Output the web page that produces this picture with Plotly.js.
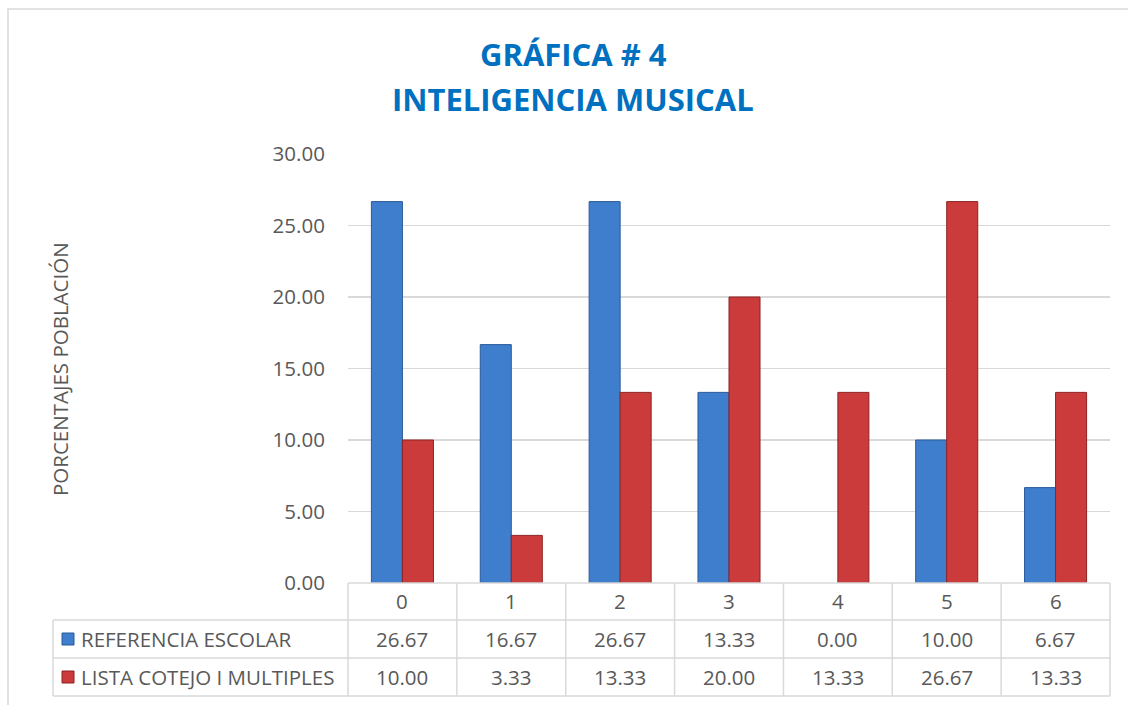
<!DOCTYPE html>
<html><head><meta charset="utf-8">
<script src="https://cdn.plot.ly/plotly-3.0.1.min.js"></script>
<style>html,body{margin:0;padding:0;background:#fff;}#chart{width:1128px;height:705px;}</style>
</head><body><div id="chart"></div>
<script>
const categories = ['0','1','2','3','4','5','6'];
const seriesNames = ['REFERENCIA ESCOLAR','LISTA COTEJO I MULTIPLES'];
const referenciaEscolar = [26.67, 16.67, 26.67, 13.33, 0.00, 10.00, 6.67];
const listaCotejo = [10.00, 3.33, 13.33, 20.00, 13.33, 26.67, 13.33];
const yTicks = [0,5,10,15,20,25,30];
const titleLines = ['GRÁFICA # 4','INTELIGENCIA MUSICAL'];
const yTitle = 'PORCENTAJES POBLACIÓN';

const FONT = 'Open Sans, Liberation Sans, sans-serif';
const TXT = '#595959';
const GRID = '#d9d9d9';
const colors = ['#3e7ecd','#cc3b3c'];
const lineColors = ['#2a5a99','#8e2323'];
const FS = 20.5;

// plot area geometry (pixels)
const L = 348, R = 1110, T = 154, B = 583;
const W = 1128, H = 705;
const pw = R - L, ph = B - T;
const px = x => (x - L) / pw;
const py = y => (B - y) / ph;

const traces = [referenciaEscolar, listaCotejo].map((vals, i) => ({
  type: 'bar', x: categories, y: vals, name: seriesNames[i],
  marker: {color: colors[i], line: {color: lineColors[i], width: vals.map(v => v > 0 ? 1 : 0)}},
  hoverinfo: 'skip'
}));

const shapes = [];
const annotations = [];
const line = (x0,y0,x1,y1) => shapes.push({type:'line',xref:'paper',yref:'paper',x0:px(x0),y0:py(y0),x1:px(x1),y1:py(y1),line:{color:GRID,width:1.5}});
// outer chart border
shapes.push({type:'rect',xref:'paper',yref:'paper',x0:px(8),y0:py(9),x1:px(1140),y1:py(720),line:{color:'#d9d9d9',width:1.5},fillcolor:'rgba(0,0,0,0)'});
// table lines
line(L, 583, R, 583);
line(53, 620, R, 620);
line(53, 658, R, 658);
line(53, 696, R, 696);
line(53, 620, 53, 696);
const colW = pw / categories.length;
for (let k = 0; k <= categories.length; k++) line(L + k*colW, 583, L + k*colW, 696);

// header labels & values
const rows = [referenciaEscolar, listaCotejo];
categories.forEach((c, k) => {
  annotations.push({xref:'x',yref:'paper',x:c,y:py(601),text:c,showarrow:false,font:{family:FONT,size:FS,color:TXT},xanchor:'center',yanchor:'middle'});
  rows.forEach((r, i) => {
    annotations.push({xref:'x',yref:'paper',x:c,y:py(i===0?639:677),text:r[k].toFixed(2),showarrow:false,font:{family:FONT,size:FS,color:TXT},xanchor:'center',yanchor:'middle'});
  });
});
// row legend keys
seriesNames.forEach((n, i) => {
  const yc = i===0 ? 639 : 677;
  shapes.push({type:'rect',xref:'paper',yref:'paper',x0:px(62),x1:px(74),y0:py(yc-6),y1:py(yc+6),fillcolor:colors[i],line:{color:lineColors[i],width:1}});
  annotations.push({xref:'paper',yref:'paper',x:px(79),y:py(yc),text:n,showarrow:false,font:{family:FONT,size:FS,color:TXT},xanchor:'left',yanchor:'middle'});
});
// title
titleLines.forEach((t, i) => {
  annotations.push({xref:'paper',yref:'paper',x:px(573),y:py(i===0?54:99),text:'<b>'+t+'</b>',showarrow:false,font:{family:FONT,size:31,color:'#0070c0'},xanchor:'center',yanchor:'middle'});
});
// y title
annotations.push({xref:'paper',yref:'paper',x:px(60),y:py(369),text:yTitle,textangle:-90,showarrow:false,font:{family:FONT,size:FS,color:TXT},xanchor:'center',yanchor:'middle'});

const layout = {
  width: W, height: H,
  margin: {l: L, r: W - R, t: T, b: H - B, pad: 0},
  paper_bgcolor: '#fff', plot_bgcolor: '#fff',
  showlegend: false,
  barmode: 'group', bargap: 0.43, bargroupgap: 0,
  xaxis: {type:'category', showticklabels:false, showgrid:false, zeroline:false, showline:false, ticks:''},
  yaxis: {range:[0,30], tickvals:yTicks, tickformat:'.2f', showgrid:true, gridcolor:GRID, gridwidth:1.5,
          zeroline:false, showline:false, ticks:'outside', ticklen:18, tickcolor:'rgba(0,0,0,0)',
          tickfont:{family:FONT,size:FS,color:TXT}},
  shapes, annotations
};
Plotly.newPlot('chart', traces, layout, {staticPlot:true, displayModeBar:false});
</script></body></html>
